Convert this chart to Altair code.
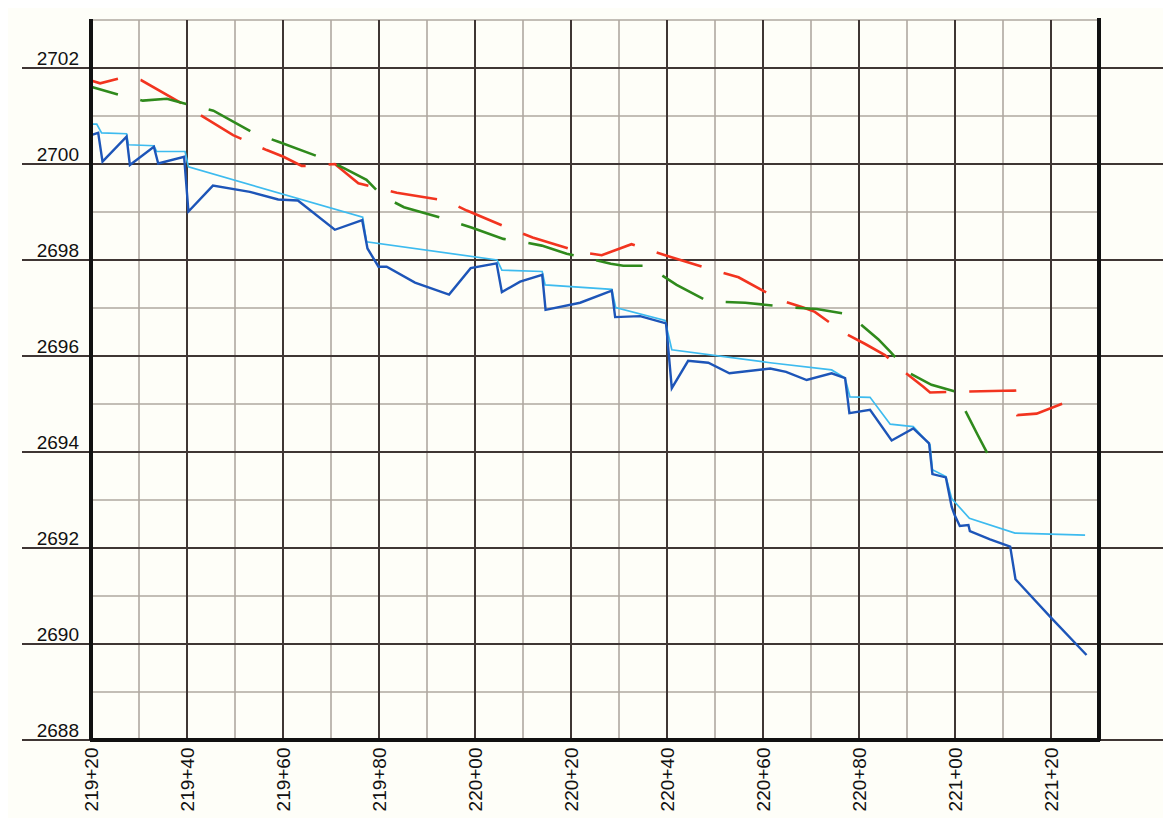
import altair as alt
import pandas as pd

# ---------------- data (station in feet, elevation) ----------------
dark_station = [21920.0, 21921.5, 21922.4, 21927.4, 21928.1, 21933.1, 21934.0, 21939.4, 21940.3, 21945.4,
                21953.1, 21959.0, 21963.1, 21970.8, 21976.5, 21977.6, 21979.9, 21981.6, 21987.5, 21994.6,
                21999.1, 22004.5, 22005.6, 22009.4, 22014.0, 22014.7, 22021.9, 22028.5, 22029.2, 22034.4,
                22039.8, 22041.0, 22044.4, 22048.6, 22053.0, 22061.5, 22064.8, 22069.1, 22074.3, 22077.1,
                22078.0, 22082.3, 22086.8, 22091.3, 22094.6, 22095.3, 22098.1, 22099.3, 22099.9, 22101.0,
                22102.8, 22103.1, 22107.3, 22111.5, 22112.6, 22119.8, 22127.4]
dark_elev = [2700.60, 2700.65, 2700.05, 2700.57, 2699.98, 2700.36, 2700.01, 2700.15, 2699.01, 2699.55,
             2699.42, 2699.26, 2699.24, 2698.63, 2698.83, 2698.24, 2697.86, 2697.86, 2697.53, 2697.28,
             2697.83, 2697.93, 2697.33, 2697.55, 2697.69, 2696.96, 2697.11, 2697.36, 2696.81, 2696.83,
             2696.68, 2695.33, 2695.90, 2695.86, 2695.64, 2695.74, 2695.67, 2695.50, 2695.64, 2695.54,
             2694.81, 2694.88, 2694.24, 2694.49, 2694.18, 2693.54, 2693.47, 2692.86, 2692.69, 2692.46,
             2692.48, 2692.35, 2692.18, 2692.03, 2691.35, 2690.57, 2689.77]

light_station = [21920.0, 21921.2, 21922.2, 21927.4, 21927.8, 21933.1, 21933.7, 21939.6, 21940.3, 21976.6,
                 21977.4, 22004.6, 22005.6, 22014.0, 22014.6, 22028.5, 22029.3, 22039.6, 22041.0, 22061.5,
                 22074.3, 22077.1, 22078.1, 22082.3, 22086.5, 22091.3, 22094.8, 22095.3, 22098.1, 22099.3,
                 22103.0, 22112.5, 22127.1]
light_elev = [2700.83, 2700.83, 2700.65, 2700.63, 2700.40, 2700.38, 2700.26, 2700.26, 2699.94, 2698.89,
              2698.38, 2698.00, 2697.79, 2697.76, 2697.48, 2697.39, 2697.01, 2696.74, 2696.13, 2695.86,
              2695.71, 2695.54, 2695.15, 2695.14, 2694.58, 2694.53, 2694.15, 2693.63, 2693.49, 2693.03,
              2692.62, 2692.31, 2692.27]

red_station = [21920.0, 21921.9, 21925.7, 21927.7, 21930.4, 21939.1, 21949.6, 21951.9, 21956.6, 21960.1,
               21963.9, 21965.8, 21970.8, 21975.7, 21978.5, 21983.7, 21993.8, 21998.3, 22007.3, 22012.0,
               22021.7, 22026.4, 22032.6, 22035.8, 22040.6, 22050.0, 22054.9, 22063.5, 22068.4, 22070.8,
               22076.7, 22081.3, 22085.4, 22089.2, 22093.4, 22094.8, 22102.8, 22112.5, 22113.0, 22117.0,
               22122.4]
red_elev = [2701.74, 2701.68, 2701.78, 2701.81, 2701.75, 2701.25, 2700.60, 2700.50, 2700.29, 2700.15,
            2699.96, 2699.96, 2700.00, 2699.60, 2699.53, 2699.40, 2699.24, 2699.03, 2698.65, 2698.47,
            2698.17, 2698.10, 2698.33, 2698.22, 2698.07, 2697.78, 2697.64, 2697.17, 2697.01, 2696.92,
            2696.49, 2696.25, 2696.02, 2695.69, 2695.36, 2695.24, 2695.26, 2695.28, 2694.77, 2694.80,
            2695.01]

green_station = [21920.0, 21925.9, 21930.8, 21935.8, 21940.5, 21945.5, 21954.2, 21958.9, 21968.3, 21972.8,
                 21977.4, 21980.7, 21985.2, 21994.6, 21999.4, 22005.9, 22008.7, 22013.9, 22019.1, 22023.3,
                 22028.3, 22030.9, 22036.1, 22037.7, 22042.0, 22048.3, 22051.0, 22056.3, 22066.0, 22071.2,
                 22077.8, 22080.1, 22084.0, 22086.5, 22090.6, 22095.1, 22100.0, 22102.3, 22104.6, 22107.5]
green_elev = [2701.61, 2701.44, 2701.32, 2701.36, 2701.23, 2701.11, 2700.63, 2700.47, 2700.12, 2699.91,
              2699.67, 2699.33, 2699.10, 2698.83, 2698.67, 2698.44, 2698.40, 2698.30, 2698.13, 2698.04,
              2697.92, 2697.88, 2697.88, 2697.76, 2697.48, 2697.15, 2697.13, 2697.11, 2697.01, 2696.98,
              2696.87, 2696.68, 2696.35, 2696.09, 2695.64, 2695.40, 2695.26, 2694.83, 2694.38, 2693.83]

x_label_values = [21920, 21940, 21960, 21980, 22000, 22020, 22040, 22060, 22080, 22100, 22120]
x_light_grid = [21930, 21950, 21970, 21990, 22010, 22030, 22050, 22070, 22090, 22110]
x_dark_grid = [21940, 21960, 21980, 22000, 22020, 22040, 22060, 22080, 22100, 22120]
y_label_values = [2688, 2690, 2692, 2694, 2696, 2698, 2700, 2702]
y_light_grid = [2689, 2691, 2693, 2695, 2697, 2699, 2701, 2703]
y_dark_grid = [2690, 2692, 2694, 2696, 2698, 2700, 2702]

# ---------------- chart ----------------
W, H = 1008, 720
DARK = "#3f3634"
LIGHT = "#afa8a0"
FONT = "Liberation Sans"

xscale = alt.Scale(domain=[21920, 22130], nice=False, zero=False)
yscale = alt.Scale(domain=[2688, 2703], nice=False, zero=False)

xaxis = alt.Axis(
    values=x_label_values,
    labelExpr="floor(datum.value/100) + '+' + (datum.value % 100 < 10 ? '0' : '') + (datum.value % 100)",
    labelAngle=-90, labelAlign="right", labelBaseline="middle",
    labelFont=FONT, labelFontSize=19, labelColor="#111111", labelPadding=7,
    labelOverlap=False, labelFlush=False,
    domain=False, ticks=False, grid=False, title=None,
)


def X(field):
    return alt.X(field, type="quantitative", scale=xscale, axis=xaxis)


def Y(field):
    return alt.Y(field, type="quantitative", scale=yscale, axis=None)


def series_df(st, el):
    return pd.DataFrame({"s": st, "e": el, "i": list(range(len(st)))})


light_h = alt.Chart(pd.DataFrame({"e": y_light_grid})).mark_rule(
    color=LIGHT, strokeWidth=1.6).encode(y=Y("e"))
light_v = alt.Chart(pd.DataFrame({"s": x_light_grid})).mark_rule(
    color=LIGHT, strokeWidth=1.6).encode(x=X("s"))
dark_v = alt.Chart(pd.DataFrame({"s": x_dark_grid})).mark_rule(
    color=DARK, strokeWidth=2).encode(x=X("s"))
dark_h = alt.Chart(pd.DataFrame({"e": y_dark_grid + [2688]})).mark_rule(
    color=DARK, strokeWidth=2).encode(y=Y("e"), x=alt.value(-69), x2=alt.value(W + 64))

left_axis = alt.Chart(pd.DataFrame({"s": [21920]})).mark_rule(
    color="#111111", strokeWidth=4).encode(x=X("s"), y=alt.value(-1), y2=alt.value(H))
right_axis = alt.Chart(pd.DataFrame({"s": [22130]})).mark_rule(
    color="#111111", strokeWidth=4).encode(x=X("s"), y=alt.value(-2), y2=alt.value(H + 1))
bottom_axis = alt.Chart(pd.DataFrame({"e": [2688]})).mark_rule(
    color="#111111", strokeWidth=4).encode(y=Y("e"), x=alt.value(-1), x2=alt.value(W + 1))

dash = [47, 23]

red = alt.Chart(series_df(red_station, red_elev)).mark_line(
    color="#f2341f", strokeWidth=2.6, strokeDash=dash, strokeDashOffset=19
).encode(x=X("s"), y=Y("e"), order="i:Q")
green = alt.Chart(series_df(green_station, green_elev)).mark_line(
    color="#2f8a1c", strokeWidth=2.6, strokeDash=dash, strokeDashOffset=19
).encode(x=X("s"), y=Y("e"), order="i:Q")
light_blue = alt.Chart(series_df(light_station, light_elev)).mark_line(
    color="#3dbbef", strokeWidth=1.7
).encode(x=X("s"), y=Y("e"), order="i:Q")
dark_blue = alt.Chart(series_df(dark_station, dark_elev)).mark_line(
    color="#1d55b8", strokeWidth=2.4
).encode(x=X("s"), y=Y("e"), order="i:Q")

ylabels = alt.Chart(pd.DataFrame({"e": y_label_values,
                                  "lab": [str(v) for v in y_label_values]})).mark_text(
    align="right", baseline="alphabetic", dx=-12, dy=-3,
    font=FONT, fontSize=19, color="#111111"
).encode(x=alt.value(0), y=Y("e"), text="lab:N")

chart = alt.layer(
    light_h, light_v, dark_v, dark_h,
    red, green, light_blue, dark_blue,
    left_axis, right_axis, bottom_axis, ylabels,
).properties(
    width=W, height=H,
    autosize=alt.AutoSizeParams(type="none"),
    padding={"left": 83, "top": 12, "right": 64, "bottom": 78},
    background="#fefef8",
).configure_view(stroke=None)

chart.save("out.html", embed_options={"renderer": "svg", "actions": False})
